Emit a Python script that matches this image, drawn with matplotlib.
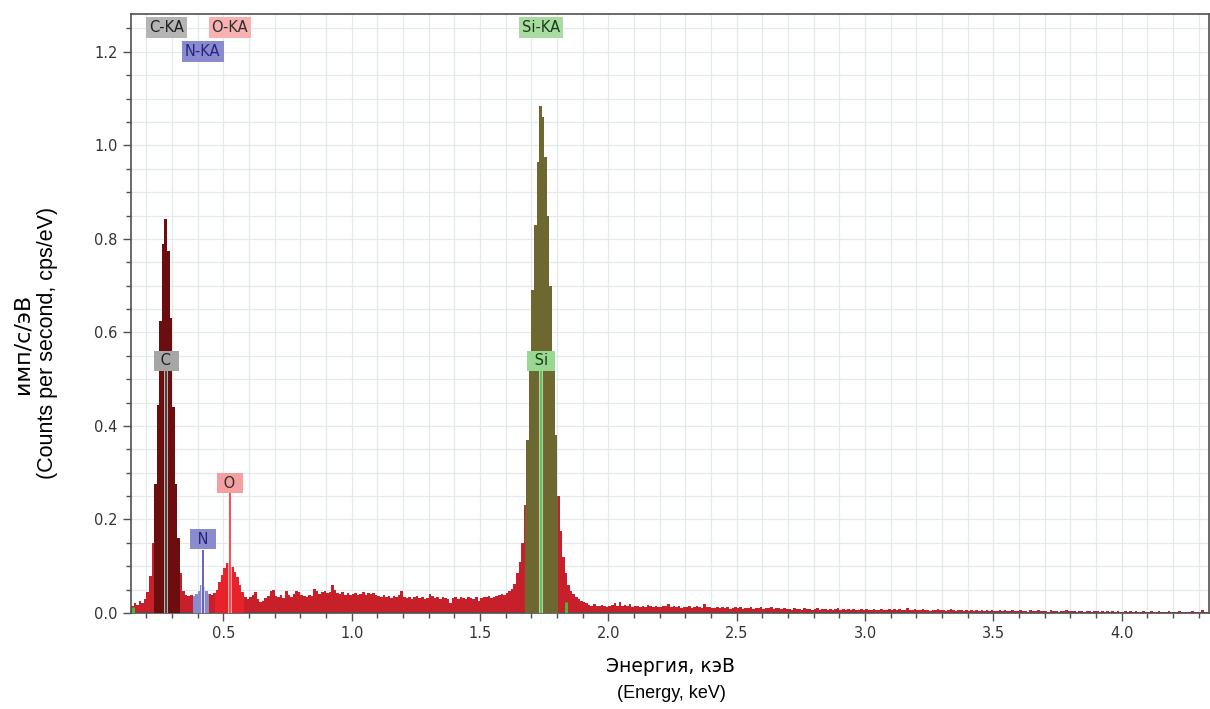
import numpy as np
import matplotlib
matplotlib.use("Agg")
import matplotlib.pyplot as plt
from matplotlib.patches import Rectangle
from matplotlib.ticker import MultipleLocator, FormatStrFormatter

# ---------------- data ----------------
energy_start = 0.14      # keV, left edge of first channel
channel_width = 0.01     # keV

# 0.14 .. 0.59 keV
counts_low = [0.015, 0.022, 0.018, 0.025, 0.022, 0.030, 0.045, 0.080, 0.150, 0.275,
              0.445, 0.625, 0.790, 0.842, 0.775, 0.630, 0.440, 0.275, 0.160, 0.085,
              0.048, 0.038, 0.036, 0.038, 0.036, 0.040, 0.048, 0.060, 0.056, 0.047,
              0.040, 0.038, 0.042, 0.050, 0.066, 0.082, 0.097, 0.106, 0.104, 0.098,
              0.088, 0.076, 0.060, 0.045, 0.034, 0.030]
# 0.60 .. 1.59 keV
counts_mid = [0.034, 0.038, 0.045, 0.030, 0.024, 0.026, 0.032, 0.036, 0.046, 0.049,
              0.036, 0.034, 0.038, 0.033, 0.046, 0.038, 0.035, 0.040, 0.048, 0.044,
              0.038, 0.036, 0.034, 0.038, 0.036, 0.052, 0.046, 0.040, 0.045, 0.048,
              0.042, 0.044, 0.059, 0.050, 0.042, 0.040, 0.044, 0.039, 0.042, 0.038,
              0.040, 0.043, 0.038, 0.041, 0.044, 0.039, 0.042, 0.040, 0.043, 0.038,
              0.036, 0.034, 0.038, 0.035, 0.037, 0.033, 0.036, 0.034, 0.038, 0.046,
              0.034, 0.032, 0.035, 0.031, 0.034, 0.036, 0.032, 0.034, 0.030, 0.033,
              0.040, 0.036, 0.033, 0.035, 0.031, 0.034, 0.032, 0.030, 0.022, 0.032,
              0.034, 0.031, 0.035, 0.033, 0.030, 0.034, 0.032, 0.031, 0.034, 0.025,
              0.033, 0.035, 0.034, 0.036, 0.033, 0.035, 0.036, 0.038, 0.040, 0.038]
# 1.60 .. 1.99 keV
counts_si = [0.042, 0.046, 0.052, 0.062, 0.085, 0.110, 0.150, 0.230, 0.370, 0.550,
             0.690, 0.830, 0.965, 1.085, 1.060, 0.975, 0.850, 0.700, 0.540, 0.380,
             0.250, 0.175, 0.120, 0.085, 0.060, 0.048, 0.040, 0.034, 0.030, 0.025,
             0.024, 0.021, 0.017, 0.015, 0.019, 0.016, 0.014, 0.017, 0.015, 0.013]
# 2.00 .. 4.33 keV
counts_tail = [0.015, 0.018, 0.021, 0.016, 0.023, 0.014, 0.017, 0.015, 0.019, 0.013,
               0.014, 0.016, 0.012, 0.015, 0.013, 0.017, 0.014, 0.012, 0.015, 0.013,
               0.012, 0.016, 0.014, 0.019, 0.013, 0.015, 0.012, 0.014, 0.011, 0.013,
               0.012, 0.014, 0.011, 0.013, 0.015, 0.012, 0.011, 0.020, 0.013, 0.012,
               0.011, 0.010, 0.012, 0.011, 0.013, 0.010, 0.012, 0.009, 0.011, 0.012,
               0.010, 0.012, 0.009, 0.011, 0.010, 0.013, 0.009, 0.011, 0.010, 0.012,
               0.009, 0.011, 0.010, 0.012, 0.008, 0.010, 0.011, 0.009, 0.010, 0.008,
               0.009, 0.007, 0.010, 0.008, 0.009, 0.007, 0.011, 0.008, 0.009, 0.007,
               0.008, 0.010, 0.007, 0.009, 0.008, 0.006, 0.009, 0.007, 0.008, 0.010,
               0.007, 0.008, 0.006, 0.009, 0.007, 0.008, 0.006, 0.007, 0.009, 0.006,
               0.008, 0.007, 0.006, 0.009, 0.007, 0.006, 0.008, 0.007, 0.006, 0.008,
               0.007, 0.009, 0.006, 0.008, 0.007, 0.006, 0.011, 0.007, 0.006, 0.008,
               0.006, 0.007, 0.008, 0.006, 0.007, 0.005, 0.007, 0.006, 0.008, 0.006,
               0.007, 0.005, 0.006, 0.008, 0.006, 0.005, 0.007, 0.006, 0.005, 0.007,
               0.005, 0.006, 0.005, 0.007, 0.004, 0.006, 0.005, 0.006, 0.004, 0.006,
               0.005, 0.004, 0.006, 0.005, 0.007, 0.004, 0.005, 0.006, 0.004, 0.005,
               0.006, 0.004, 0.005, 0.003, 0.006, 0.005, 0.004, 0.006, 0.005, 0.004,
               0.005, 0.003, 0.006, 0.004, 0.005, 0.003, 0.005, 0.004, 0.006, 0.004,
               0.004, 0.005, 0.003, 0.005, 0.004, 0.003, 0.005, 0.004, 0.003, 0.005,
               0.004, 0.003, 0.004, 0.002, 0.005, 0.003, 0.004, 0.003, 0.004, 0.002,
               0.003, 0.004, 0.002, 0.004, 0.003, 0.005, 0.002, 0.003, 0.004, 0.003,
               0.002, 0.004, 0.003, 0.002, 0.004, 0.003, 0.002, 0.003, 0.004, 0.002,
               0.003, 0.002, 0.004, 0.003, 0.002, 0.003, 0.002, 0.004, 0.003, 0.002,
               0.003, 0.007, 0.002, 0.003]

# element regions of interest (keV) and their fill colours
roi_lo = [0.230, 0.380, 0.467, 1.674]
roi_hi = [0.330, 0.443, 0.580, 1.804]
roi_colors = ["#6c0d10", "#8a8ace", "#e8222a", "#6c6830"]

# element line markers
line_names = ["C", "N", "O", "Si"]
line_energy = [0.277, 0.420, 0.525, 1.738]
line_top = [0.520, 0.135, 0.257, 0.520]
line_colors = ["#2a2a2a", "#4a4ab8", "#ff2a30", "#3cc43c"]
label_y = [0.539, 0.158, 0.278, 0.539]
label_bg = ["#a6a6a6", "#8a8ace", "#f4a0a0", "#98d890"]
label_fg = ["#202020", "#252580", "#303030", "#1c3a1c"]

# series labels along the top
series_names = ["C-KA", "N-KA", "O-KA", "Si-KA"]
series_y = [1.253, 1.200, 1.253, 1.253]
series_bg = ["#b4b4b4", "#8a8ace", "#f8b2b2", "#a8dca0"]
series_fg = ["#202020", "#252580", "#303030", "#1c3a1c"]

# small green markers
tick_marks_energy = [0.148, 1.834]
tick_marks_height = [0.013, 0.024]

# axis titles
ylabel_ru, ylabel_en = "имп/с/эВ", "(Counts per second, cps/eV)"
xlabel_ru, xlabel_en = "Энергия, кэВ", "(Energy, keV)"

x_min, x_max = 0.14, 4.34
y_min, y_max = 0.0, 1.281

# ---------------- figure ----------------
W, H = 1210, 709
fig = plt.figure(figsize=(W / 100, H / 100), dpi=100)
ax = fig.add_axes([131 / W, (H - 613) / H, (1209 - 131) / W, (613 - 14) / H])

counts = np.array(counts_low + counts_mid + counts_si + counts_tail)
edges = energy_start + channel_width * np.arange(len(counts) + 1)

ax.set_xlim(x_min, x_max)
ax.set_ylim(y_min, y_max)

# grid
ax.xaxis.set_major_locator(MultipleLocator(0.5))
ax.xaxis.set_minor_locator(MultipleLocator(0.1))
ax.yaxis.set_major_locator(MultipleLocator(0.2))
ax.yaxis.set_minor_locator(MultipleLocator(0.05))
ax.xaxis.set_major_formatter(FormatStrFormatter("%.1f"))
ax.yaxis.set_major_formatter(FormatStrFormatter("%.1f"))
ax.grid(True, which="both", color="#e2eaed", lw=0.9, zorder=0)
ax.set_axisbelow(True)

# spectrum
ax.stairs(counts, edges, fill=True, color="#c8202a", lw=0, zorder=2)
for lo, hi, c in zip(roi_lo, roi_hi, roi_colors):
    p = ax.stairs(counts, edges, fill=True, color=c, lw=0, zorder=3)
    clip = Rectangle((lo, 0), hi - lo, y_max, transform=ax.transData)
    p.set_clip_path(clip)

# small green markers
for e, h in zip(tick_marks_energy, tick_marks_height):
    ax.plot([e, e], [0, h], color="#3cc43c", lw=2, zorder=4, solid_capstyle="butt")

# element lines and labels
for name, e, top, c, ly, bg, fg in zip(line_names, line_energy, line_top, line_colors,
                                       label_y, label_bg, label_fg):
    ax.plot([e, e], [0, top], color="white", lw=2.6, zorder=4, solid_capstyle="butt", alpha=0.8)
    ax.plot([e, e], [0, top], color=c, lw=1.2, zorder=5, solid_capstyle="butt")
    ax.text(e, ly, " " + name + " ", ha="center", va="center", fontsize=10.5, color=fg,
            family="DejaVu Sans", zorder=6,
            bbox=dict(boxstyle="square,pad=0.18", fc=bg, ec="none"))

for name, e, sy, bg, fg in zip(series_names, line_energy, series_y, series_bg, series_fg):
    ax.text(e, sy, name, ha="center", va="center", fontsize=10.5, color=fg,
            family="DejaVu Sans", zorder=6,
            bbox=dict(boxstyle="square,pad=0.2", fc=bg, ec="none"))

# axes styling
for s in ax.spines.values():
    s.set_color("#505050")
    s.set_linewidth(1.2)
ax.tick_params(axis="both", which="major", direction="out", length=6, width=1,
               color="#505050", labelsize=10.5, labelcolor="#333333")
ax.tick_params(axis="both", which="minor", direction="out", length=3.5, width=1,
               color="#505050")
for lab in ax.get_xticklabels() + ax.get_yticklabels():
    lab.set_family("DejaVu Sans")

# axis titles (Cyrillic line drawn in a wider face, as in the reference)
fig.text(23 / W, (H - 344) / H, ylabel_ru, rotation=90, ha="center", va="center",
         fontsize=16, family="DejaVu Sans", color="#000000")
fig.text(48 / W, (H - 343) / H, ylabel_en, rotation=90, ha="center", va="center",
         fontsize=15.5, family="Liberation Sans", color="#000000")
fig.text(670 / W, (H - 667) / H, xlabel_ru, ha="center", va="center",
         fontsize=13.5, family="DejaVu Sans", color="#000000")
fig.text(671 / W, (H - 694) / H, xlabel_en, ha="center", va="center",
         fontsize=13, family="Liberation Sans", color="#000000")

fig.savefig("out.png", dpi=100)
